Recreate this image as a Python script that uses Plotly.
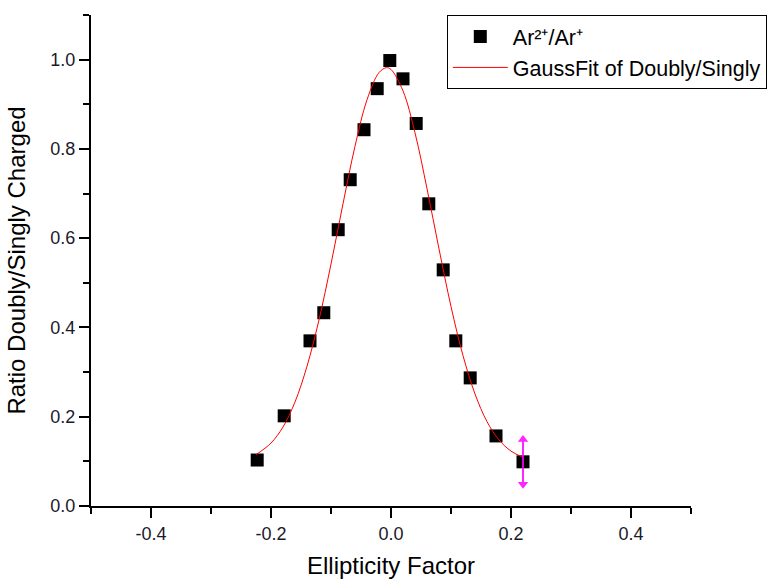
import plotly.graph_objects as go

# Measured ratio Ar2+/Ar+ vs ellipticity
ellipticity = [-0.223, -0.178, -0.135, -0.112, -0.088, -0.068, -0.045, -0.023, -0.002,
               0.020, 0.042, 0.063, 0.087, 0.108, 0.132, 0.175, 0.220]
ratio = [0.103, 0.202, 0.370, 0.433, 0.619, 0.731, 0.843, 0.935, 0.998,
         0.957, 0.857, 0.677, 0.529, 0.370, 0.287, 0.157, 0.099]

# Gauss fit curve
fit_x = [-0.225, -0.20, -0.18, -0.16, -0.14, -0.12, -0.10, -0.08, -0.06, -0.04, -0.02,
         -0.0075, 0.00, 0.02, 0.04, 0.06, 0.08, 0.10, 0.12, 0.14, 0.16, 0.18, 0.20, 0.22]
fit_y = [0.115, 0.141, 0.177, 0.233, 0.313, 0.417, 0.542, 0.677, 0.806, 0.910, 0.971,
         0.982, 0.978, 0.930, 0.836, 0.711, 0.576, 0.447, 0.337, 0.251, 0.189, 0.148, 0.123, 0.109]

x_tickvals = [-0.4, -0.2, 0.0, 0.2, 0.4]
x_ticktext = ["-0.4", "-0.2", "0.0", "0.2", "0.4"]
y_tickvals = [0.0, 0.2, 0.4, 0.6, 0.8, 1.0]
y_ticktext = ["0.0", "0.2", "0.4", "0.6", "0.8", "1.0"]

cursor_offset = 0.05

FONT = "Liberation Sans, Arial, sans-serif"
TICK_COLOR = "#1a1a2a"

fig = go.Figure()
fig.add_trace(go.Scatter(
    x=ellipticity, y=ratio, mode="markers",
    name="Ar²⁺/Ar⁺",
    marker=dict(symbol="square", size=13, color="black"),
))
fig.add_trace(go.Scatter(
    x=fit_x, y=fit_y, mode="lines",
    name="GaussFit of Doubly/Singly",
    line=dict(color="#ff0000", width=1, shape="spline"),
))
# magenta data-reader cursor on the last point
fig.add_trace(go.Scatter(
    x=[ellipticity[-1], ellipticity[-1]],
    y=[ratio[-1] + cursor_offset, ratio[-1] - cursor_offset],
    mode="lines+markers", showlegend=False,
    line=dict(color="#ff00ff", width=2),
    marker=dict(symbol=["triangle-up", "triangle-down"], size=9, color="#ff00ff"),
    opacity=0.85,
))

fig.update_layout(
    width=771, height=579,
    margin=dict(l=91, r=80, t=15, b=73, autoexpand=False),
    paper_bgcolor="white", plot_bgcolor="white",
    font=dict(family=FONT, color="black"),
    legend=dict(
        x=0.593, y=1.0, xanchor="left", yanchor="top",
        bordercolor="black", borderwidth=1,
        font=dict(size=21.5, family=FONT, color="black"),
        itemwidth=55, tracegroupgap=0, bgcolor="white",
    ),
    showlegend=True,
)
fig.update_xaxes(
    range=[-0.5, 0.5], tickvals=x_tickvals, ticktext=x_ticktext,
    showline=True, linecolor="black", linewidth=2, mirror=False,
    ticks="outside", ticklen=10, tickwidth=2, tickcolor="black",
    minor=dict(dtick=0.1, tick0=0, ticks="outside", ticklen=6, tickwidth=2, tickcolor="black"),
    showgrid=False, zeroline=False, automargin=True,
    tickfont=dict(size=18, family=FONT, color=TICK_COLOR),
    title=dict(text="Ellipticity Factor", font=dict(size=24, family=FONT, color="black"), standoff=23),
)
fig.update_yaxes(
    range=[0, 1.1], tickvals=y_tickvals, ticktext=y_ticktext,
    showline=True, linecolor="black", linewidth=2, mirror=False,
    ticks="outside", ticklen=10, tickwidth=2, tickcolor="black",
    minor=dict(dtick=0.1, tick0=0, ticks="outside", ticklen=6, tickwidth=2, tickcolor="black"),
    showgrid=False, zeroline=False, automargin=True,
    tickfont=dict(size=18, family=FONT, color=TICK_COLOR),
    title=dict(text="Ratio Doubly/Singly Charged", font=dict(size=24, family=FONT, color="black"), standoff=18),
)

fig.write_html("out.html")
